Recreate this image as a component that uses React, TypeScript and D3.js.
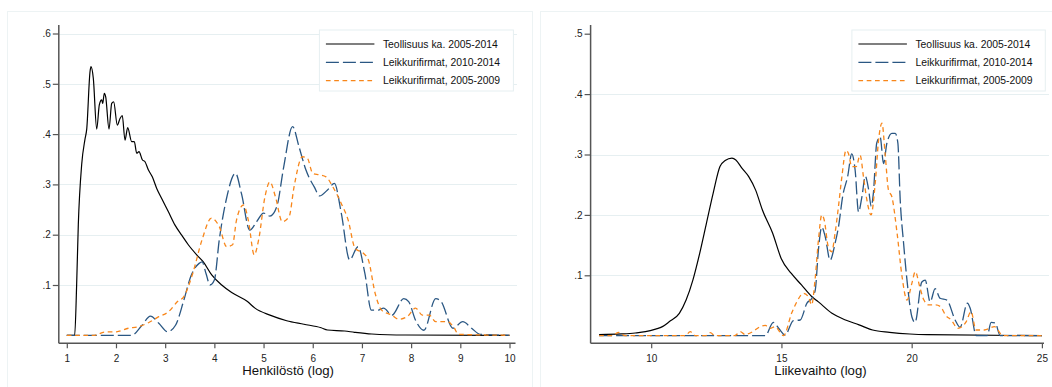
import React, { useRef, useEffect } from 'react';
import * as d3 from 'd3';

type Pt = [number, number];

const legendLabels = ['Teollisuus ka. 2005-2014', 'Leikkurifirmat, 2010-2014', 'Leikkurifirmat, 2005-2009'];

// Henkilöstö (log) panel
const henkTicksX = [1, 2, 3, 4, 5, 6, 7, 8, 9, 10];
const henkTicksY = [0.1, 0.2, 0.3, 0.4, 0.5, 0.6];

const henkTeollisuus: Pt[] = [
    [1, 0], [1.16, 0], [1.2, 0.1], [1.234, 0.22], [1.303, 0.34], [1.37, 0.39], [1.405, 0.41], [1.472, 0.524],
    [1.492, 0.534], [1.539, 0.511], [1.608, 0.41], [1.661, 0.458], [1.709, 0.468], [1.73, 0.461], [1.762, 0.481],
    [1.791, 0.474], [1.858, 0.41], [1.913, 0.461], [1.953, 0.464], [2.027, 0.418], [2.082, 0.431], [2.128, 0.437],
    [2.183, 0.388], [2.238, 0.413], [2.319, 0.385], [2.372, 0.385], [2.421, 0.362], [2.468, 0.365], [2.535, 0.349],
    [2.59, 0.345], [2.657, 0.329], [2.738, 0.315], [2.828, 0.292], [2.929, 0.272], [3.063, 0.246], [3.2, 0.219],
    [3.336, 0.199], [3.47, 0.18], [3.641, 0.16], [3.775, 0.146], [3.946, 0.12], [4.149, 0.1], [4.352, 0.085],
    [4.673, 0.067], [4.826, 0.054], [5.13, 0.04], [5.47, 0.029], [5.82, 0.022], [6.17, 0.015], [6.3, 0.0105],
    [6.65, 0.0085], [6.85, 0.006], [7.2, 0.0026], [7.88, 0.0006], [10, 0],
];

const henkLeikkuri1014: Pt[] = [
    [1, 0], [2.32, 0], [2.53, 0.02], [2.7, 0.038], [2.87, 0.024], [3.05, 0.007], [3.21, 0.02], [3.38, 0.07],
    [3.52, 0.117], [3.69, 0.143], [3.75, 0.146], [3.83, 0.123], [3.91, 0.1], [4.0, 0.11], [4.1, 0.19], [4.24, 0.269],
    [4.43, 0.322], [4.55, 0.282], [4.72, 0.209], [4.86, 0.226], [5.0, 0.243], [5.13, 0.237], [5.27, 0.256],
    [5.41, 0.335], [5.59, 0.415], [5.72, 0.375], [5.86, 0.329], [6.03, 0.295], [6.14, 0.277], [6.3, 0.289],
    [6.44, 0.302], [6.58, 0.243], [6.75, 0.15], [6.92, 0.176], [7.06, 0.123], [7.19, 0.05], [7.33, 0.05],
    [7.44, 0.054], [7.61, 0.04], [7.85, 0.073], [7.95, 0.067], [8.09, 0.03], [8.26, 0.01], [8.5, 0.073],
    [8.61, 0.067], [8.85, 0.014], [9.05, 0.027], [9.23, 0.014], [9.4, 0.002], [10, 0],
];

const henkLeikkuri0509: Pt[] = [
    [1, 0], [1.56, 0], [1.77, 0.0066], [2.01, 0.007], [2.25, 0.014], [2.45, 0.017], [2.66, 0.025], [2.87, 0.037],
    [3.07, 0.047], [3.25, 0.067], [3.38, 0.077], [3.56, 0.123], [3.75, 0.19], [3.94, 0.233], [4.1, 0.216],
    [4.25, 0.176], [4.37, 0.18], [4.45, 0.229], [4.59, 0.259], [4.69, 0.229], [4.81, 0.16], [4.9, 0.19],
    [5.03, 0.276], [5.13, 0.305], [5.24, 0.276], [5.38, 0.226], [5.52, 0.236], [5.62, 0.295], [5.79, 0.355],
    [5.89, 0.352], [6.0, 0.322], [6.13, 0.319], [6.27, 0.315], [6.41, 0.295], [6.58, 0.262], [6.72, 0.229],
    [6.86, 0.173], [7.03, 0.163], [7.13, 0.15], [7.27, 0.083], [7.4, 0.05], [7.61, 0.04], [7.75, 0.032],
    [7.92, 0.037], [8.09, 0.054], [8.23, 0.04], [8.37, 0.04], [8.5, 0.027], [8.74, 0.027], [8.88, 0.014],
    [8.96, 0.002], [10, 0],
];

// Liikevaihto (log) panel
const liikeTicksX = [10, 15, 20, 25];
const liikeTicksY = [0.1, 0.2, 0.3, 0.4, 0.5];

const liikeTeollisuus: Pt[] = [
    [8, 0.002], [8.87, 0.003], [9.39, 0.0045], [9.78, 0.0066], [10.17, 0.011], [10.43, 0.015], [10.69, 0.023],
    [11.08, 0.037], [11.34, 0.059], [11.6, 0.092], [11.86, 0.136], [12.12, 0.186], [12.38, 0.236], [12.64, 0.28],
    [12.84, 0.29], [13.1, 0.294], [13.25, 0.291], [13.49, 0.277], [13.75, 0.263], [14.01, 0.241], [14.27, 0.208],
    [14.66, 0.17], [14.99, 0.128], [15.38, 0.103], [15.77, 0.084], [16.16, 0.065], [16.42, 0.056], [16.94, 0.037],
    [17.46, 0.026], [17.98, 0.018], [18.5, 0.0094], [19.15, 0.0056], [19.93, 0.0028], [20.59, 0.0017], [25, 0],
];

const liikeLeikkuri1014: Pt[] = [
    [8, 0], [14.38, 0], [14.69, 0.022], [14.9, 0.012], [15.14, 0.001], [15.46, 0.025], [15.72, 0.026],
    [15.98, 0.054], [16.17, 0.062], [16.3, 0.076], [16.42, 0.142], [16.55, 0.18], [16.68, 0.164], [16.87, 0.125],
    [17.06, 0.153], [17.19, 0.18], [17.36, 0.233], [17.54, 0.263], [17.7, 0.301], [17.83, 0.274], [17.96, 0.205],
    [18.09, 0.23], [18.22, 0.264], [18.34, 0.244], [18.45, 0.214], [18.53, 0.236], [18.66, 0.319], [18.79, 0.329],
    [18.92, 0.285], [19.05, 0.319], [19.24, 0.335], [19.37, 0.335], [19.47, 0.319], [19.56, 0.225], [19.69, 0.153],
    [19.82, 0.092], [20.01, 0.031], [20.13, 0.022], [20.39, 0.089], [20.52, 0.092], [20.71, 0.056], [20.9, 0.078],
    [21.09, 0.062], [21.35, 0.059], [21.67, 0.026], [21.86, 0.014], [22.14, 0.054], [22.25, 0.045], [22.48, 0],
    [22.9, 0], [23.05, 0.022], [23.21, 0.021], [23.4, 0], [25, 0],
];

const liikeLeikkuri0509: Pt[] = [
    [8, 0], [8.5, 0], [8.74, 0.0056], [9.0, 0], [11.3, 0], [11.5, 0.0066], [11.7, 0], [12.1, 0], [12.27, 0.005],
    [12.45, 0], [13.2, 0], [13.42, 0.0066], [13.6, 0.002], [13.93, 0.0075], [14.18, 0.015], [14.38, 0.017],
    [14.57, 0.012], [14.75, 0.015], [15.08, 0], [15.39, 0.037], [15.59, 0.056], [15.84, 0.07], [16.03, 0.065],
    [16.16, 0.051], [16.29, 0.092], [16.42, 0.158], [16.55, 0.2], [16.64, 0.192], [16.8, 0.147], [16.93, 0.139],
    [17.06, 0.17], [17.19, 0.214], [17.32, 0.263], [17.48, 0.307], [17.57, 0.302], [17.7, 0.28], [17.87, 0.28],
    [18.02, 0.299], [18.15, 0.263], [18.28, 0.225], [18.44, 0.2], [18.6, 0.252], [18.73, 0.324], [18.86, 0.352],
    [18.98, 0.302], [19.11, 0.241], [19.24, 0.23], [19.44, 0.17], [19.63, 0.098], [19.82, 0.059], [20.01, 0.087],
    [20.14, 0.106], [20.31, 0.081], [20.47, 0.059], [20.66, 0.051], [20.92, 0.051], [21.11, 0.048], [21.3, 0.034],
    [21.52, 0.026], [21.77, 0.012], [22.09, 0.023], [22.28, 0.04], [22.47, 0.0094], [22.79, 0.0094], [23.18, 0.015],
    [23.5, 0], [25, 0],
];

const seriesStyles = [
    { color: '#000000', dash: 'none', width: 1.2 },
    { color: '#2a5783', dash: '13,4', width: 1.3 },
    { color: '#f8861a', dash: '4.7,3.6', width: 1.3 },
];

const FONT = '"Liberation Sans", Arial, Helvetica, sans-serif';
const GRID = '#e6eff1';
const AXIS = '#555555';

interface PanelSpec {
    frame: [number, number, number, number];
    axisX: number;          // x of the y axis line
    axisY: number;          // y of the x axis line
    axisTop: number;
    axisRight: number;
    gridRight: number;
    xDomain: [number, number];
    xRange: [number, number];
    yDomain: [number, number];
    yRange: [number, number];
    xTicks: number[];
    yTicks: number[];
    gridTicks: number[];
    title: string;
    legend: [number, number, number, number];
    series: Pt[][];
}

function drawPanel(svg: d3.Selection<SVGSVGElement, unknown, null, undefined>, p: PanelSpec) {
    const g = svg.append('g');

    // faint graph region outline
    g.append('rect')
        .attr('x', p.frame[0]).attr('y', p.frame[1])
        .attr('width', p.frame[2]).attr('height', p.frame[3])
        .attr('fill', 'none').attr('stroke', '#edf3f4').attr('stroke-width', 1);

    const x = d3.scaleLinear().domain(p.xDomain).range(p.xRange);
    const y = d3.scaleLinear().domain(p.yDomain).range(p.yRange);

    // gridlines
    g.selectAll('.grid')
        .data(p.gridTicks)
        .enter()
        .append('line')
        .attr('x1', p.axisX).attr('x2', p.gridRight)
        .attr('y1', d => Math.round(y(d)) + 0.5).attr('y2', d => Math.round(y(d)) + 0.5)
        .attr('stroke', GRID).attr('stroke-width', 1);

    // curves
    const line = d3.line<Pt>()
        .x(d => x(d[0]))
        .y(d => y(d[1]))
        .curve(d3.curveMonotoneX);

    p.series.forEach((s, i) => {
        const st = seriesStyles[i];
        g.append('path')
            .attr('d', line(s) as string)
            .attr('fill', 'none')
            .attr('stroke', st.color)
            .attr('stroke-width', st.width)
            .attr('stroke-dasharray', st.dash)
            .attr('stroke-linejoin', 'round');
    });

    // axes
    const xAxis = d3.axisBottom(x).tickValues(p.xTicks).tickSize(5).tickSizeOuter(0).tickPadding(7)
        .tickFormat(d => String(d));
    const xAxisG = g.append('g').attr('transform', `translate(0,${p.axisY})`).call(xAxis);
    xAxisG.select('.domain').remove();
    xAxisG.selectAll('.tick line').attr('stroke', AXIS).attr('stroke-width', 1.2);
    xAxisG.selectAll('text').attr('fill', '#222').attr('font-family', FONT).attr('font-size', '10px');

    const yAxis = d3.axisLeft(y).tickValues(p.yTicks).tickSize(6).tickSizeOuter(0).tickPadding(2)
        .tickFormat(d => d3.format('.1f')(d as number).replace(/^0/, ''));
    const yAxisG = g.append('g').attr('transform', `translate(${p.axisX},0)`).call(yAxis);
    yAxisG.select('.domain').remove();
    yAxisG.selectAll('.tick line').attr('stroke', AXIS).attr('stroke-width', 1.2);
    yAxisG.selectAll('text').attr('fill', '#222').attr('font-family', FONT).attr('font-size', '10px');

    g.append('line')
        .attr('x1', p.axisX).attr('x2', p.axisX)
        .attr('y1', p.axisTop).attr('y2', p.axisY)
        .attr('stroke', AXIS).attr('stroke-width', 1.5);
    g.append('line')
        .attr('x1', p.axisX).attr('x2', p.axisRight)
        .attr('y1', p.axisY).attr('y2', p.axisY)
        .attr('stroke', AXIS).attr('stroke-width', 1.5);

    // axis title
    g.append('text')
        .attr('x', (p.xRange[0] + p.xRange[1]) / 2)
        .attr('y', p.axisY + 32)
        .attr('text-anchor', 'middle')
        .attr('font-family', FONT)
        .attr('font-size', '13.2px')
        .attr('fill', '#111')
        .text(p.title);

    // legend
    const [lx, ly, lw, lh] = p.legend;
    g.append('rect')
        .attr('x', lx).attr('y', ly).attr('width', lw).attr('height', lh)
        .attr('fill', '#fff').attr('stroke', GRID).attr('stroke-width', 1);
    legendLabels.forEach((label, i) => {
        const st = seriesStyles[i];
        const ry = ly + 14 + i * 18.3;
        g.append('line')
            .attr('x1', lx + 6.5).attr('x2', lx + 55)
            .attr('y1', ry).attr('y2', ry)
            .attr('stroke', st.color)
            .attr('stroke-width', st.width)
            .attr('stroke-dasharray', st.dash);
        g.append('text')
            .attr('x', lx + 63.5)
            .attr('y', ry + 3.8)
            .attr('font-family', FONT)
            .attr('font-size', '10.4px')
            .attr('fill', '#111')
            .text(label);
    });
}

export default function App() {
    const svgRef = useRef<SVGSVGElement>(null);

    useEffect(() => {
        if (!svgRef.current) return;
        const svg = d3.select(svgRef.current);
        svg.selectAll('*').remove();

        svg.append('rect').attr('width', 1052).attr('height', 387).attr('fill', '#fff');

        drawPanel(svg, {
            frame: [7.5, 11.5, 525, 390],
            axisX: 58.8,
            axisY: 343.3,
            axisTop: 25,
            axisRight: 515.5,
            gridRight: 517,
            xDomain: [1, 10],
            xRange: [66.8, 509.5],
            yDomain: [0, 0.6],
            yRange: [335.3, 33.5],
            xTicks: henkTicksX,
            yTicks: henkTicksY,
            gridTicks: henkTicksY,
            title: 'Henkilöstö (log)',
            legend: [319.4, 30, 194, 61],
            series: [henkTeollisuus, henkLeikkuri1014, henkLeikkuri0509],
        });

        drawPanel(svg, {
            frame: [540.5, 11.5, 530, 390],
            axisX: 590.6,
            axisY: 343.3,
            axisTop: 25,
            axisRight: 1044,
            gridRight: 1049,
            xDomain: [8, 25],
            xRange: [599.1, 1041.9],
            yDomain: [0, 0.5],
            yRange: [335.7, 33.7],
            xTicks: liikeTicksX,
            yTicks: liikeTicksY,
            gridTicks: [0.1, 0.2, 0.3, 0.4],
            title: 'Liikevaihto (log)',
            legend: [851.9, 30, 193.4, 61],
            series: [liikeTeollisuus, liikeLeikkuri1014, liikeLeikkuri0509],
        });
    }, []);

    return (
        <svg
            ref={svgRef}
            width={1052}
            height={387}
            style={{ position: 'absolute', left: 0, top: 0, display: 'block' }}
        />
    );
}
